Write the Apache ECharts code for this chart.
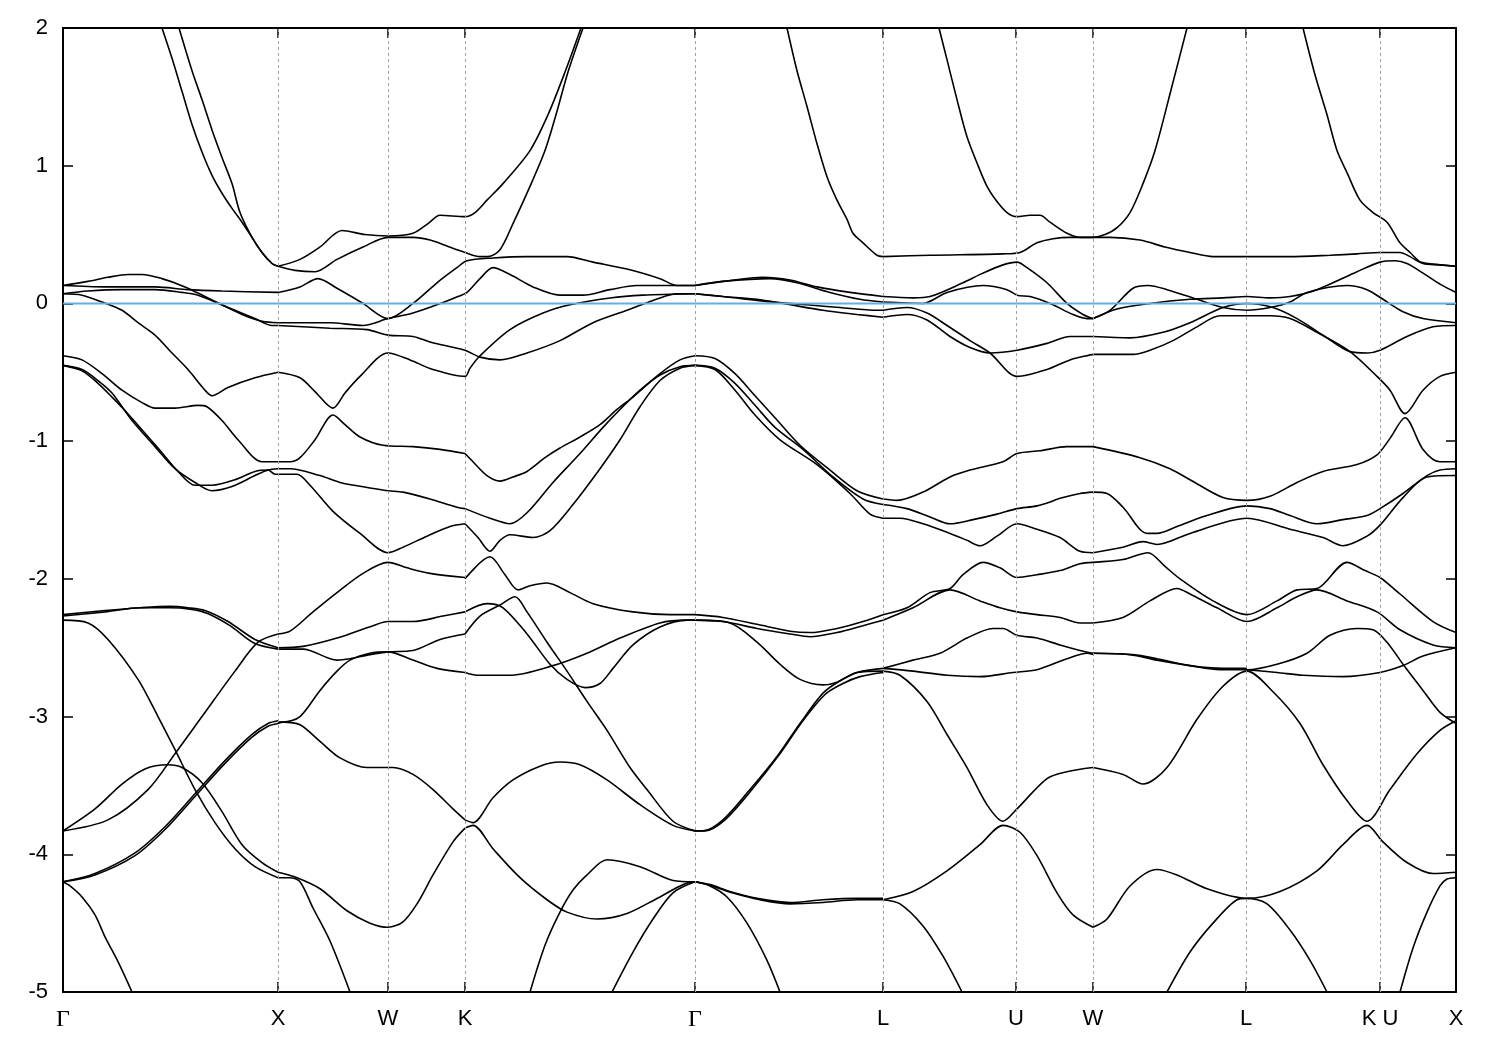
<!DOCTYPE html>
<html><head><meta charset="utf-8">
<script src="https://cdn.jsdelivr.net/npm/echarts@6/dist/echarts.min.js"></script>
<style>html,body{margin:0;padding:0;background:#fff}#c{width:1500px;height:1050px}</style>
</head><body><div id="c"></div>
<script>
// k-path tick positions (path length units) and labels
const kTickPos = [0,215,325,402,632,820,953,1030,1183,1317,1393];
const kTickLabels = ['Γ','X','W','K','Γ','L','U','W','L','K U','X'];
const energyMin = -5, energyMax = 2, energyStep = 1;
const fermiLevel = [[0,0],[1393,0]];

// ---- Γ–X ----
const P1 = [[99,2.00],[109,1.78],[119,1.54],[129,1.30],[139,1.10],[149,0.93],[159,0.80],[169,0.69],[179,0.59],[189,0.48],[199,0.37],[209,0.29],[215,0.27]];
const P2 = [[116,2.00],[129,1.69],[139,1.48],[149,1.26],[159,1.06],[169,0.87],[177,0.66],[189,0.48],[199,0.37],[209,0.29],[215,0.27]];
const GXa = [[0,0.13],[25,0.16],[45,0.19],[65,0.21],[79,0.21],[99,0.18],[122,0.12],[142,0.05],[159,-0.01],[179,-0.08],[199,-0.13],[215,-0.14]];
const GXb = [[0,0.13],[42,0.12],[92,0.12],[125,0.10],[159,0.09],[215,0.08]];
const GXc = [[0,0.07],[25,0.09],[59,0.10],[92,0.10],[119,0.08],[135,0.06],[152,0.01],[172,-0.05],[192,-0.11],[209,-0.16],[215,-0.16]];
const GXd = [[0,0.07],[19,0.06],[39,0.01],[59,-0.05],[75,-0.14],[92,-0.23],[109,-0.36],[125,-0.48],[142,-0.63],[149,-0.67],[165,-0.61],[192,-0.54],[215,-0.50]];
const GXe = [[0,-0.38],[19,-0.41],[39,-0.51],[59,-0.63],[79,-0.72],[92,-0.76],[112,-0.76],[135,-0.74],[144,-0.75],[159,-0.85],[175,-0.99],[199,-1.15],[215,-1.15]];
const GXf = [[0,-0.45],[19,-0.48],[35,-0.56],[49,-0.65],[59,-0.75],[69,-0.85],[92,-1.04],[112,-1.20],[132,-1.30],[149,-1.36],[169,-1.33],[192,-1.25],[205,-1.21],[215,-1.20]];
const GXg = [[0,-0.45],[19,-0.49],[35,-0.58],[49,-0.68],[61,-0.77],[72,-0.86],[95,-1.05],[115,-1.22],[132,-1.32],[149,-1.32],[172,-1.28],[192,-1.22],[205,-1.21],[212,-1.24],[215,-1.24]];
const GX1 = [[0,-2.26],[42,-2.23],[77,-2.21],[107,-2.20],[125,-2.21],[142,-2.23],[165,-2.31],[192,-2.44],[215,-2.50]];
const GX2 = [[0,-2.27],[42,-2.24],[77,-2.21],[107,-2.21],[127,-2.22],[144,-2.25],[167,-2.34],[192,-2.47],[215,-2.51]];
const GX3 = [[0,-2.30],[25,-2.32],[45,-2.44],[75,-2.73],[95,-3.00],[112,-3.24],[132,-3.53],[152,-3.77],[172,-3.96],[192,-4.09],[215,-4.17]];
const GX4 = [[0,-3.83],[45,-3.75],[85,-3.53],[112,-3.27],[139,-3.00],[172,-2.67],[195,-2.46],[215,-2.40]];
const GX5 = [[0,-3.83],[32,-3.67],[59,-3.49],[82,-3.38],[105,-3.35],[119,-3.37],[139,-3.48],[159,-3.69],[179,-3.93],[199,-4.06],[215,-4.13]];
const GX6 = [[0,-4.20],[32,-4.14],[72,-3.99],[102,-3.80],[132,-3.56],[162,-3.32],[189,-3.13],[205,-3.05],[215,-3.03]];
const GX7 = [[0,-4.20],[32,-4.15],[72,-4.01],[102,-3.82],[132,-3.58],[162,-3.34],[189,-3.15],[205,-3.07],[215,-3.05]];
const GX8 = [[0,-4.20],[7,-4.23],[19,-4.31],[32,-4.44],[42,-4.60],[55,-4.78],[69,-5.00]];

// ---- X–W–K–Γ ----
const U1 = [[215,0.27],[237,0.32],[257,0.41],[279,0.53],[302,0.50],[325,0.49],[350,0.51],[365,0.58],[377,0.64],[402,0.63],[412,0.66],[424,0.75],[440,0.87],[467,1.11],[485,1.37],[502,1.68],[518,2.00]];
const U2 = [[215,0.27],[232,0.24],[252,0.23],[274,0.32],[300,0.41],[325,0.48],[350,0.48],[367,0.46],[394,0.39],[402,0.37],[417,0.34],[425,0.34],[437,0.39],[450,0.58],[467,0.85],[482,1.11],[493,1.37],[505,1.68],[520,2.00]];
const lineA = [[215,0.08],[237,0.12],[255,0.18],[274,0.11],[300,0.00],[325,-0.11],[350,0.00],[374,0.15],[394,0.26],[404,0.31],[430,0.33],[464,0.34],[504,0.34],[530,0.30],[564,0.25],[597,0.18],[614,0.13],[632,0.13]];
const lineB = [[215,-0.14],[237,-0.14],[267,-0.14],[300,-0.16],[325,-0.11],[350,-0.07],[374,-0.01],[395,0.05],[404,0.08],[417,0.18],[430,0.26],[447,0.21],[470,0.12],[497,0.06],[520,0.06],[547,0.10],[574,0.13],[597,0.13],[632,0.13]];
const lineC = [[215,-0.16],[267,-0.18],[304,-0.19],[325,-0.23],[350,-0.24],[367,-0.28],[402,-0.34],[417,-0.39],[437,-0.41],[464,-0.36],[497,-0.27],[530,-0.14],[564,-0.05],[597,0.04],[614,0.07],[632,0.07]];
const lineD = [[215,-0.50],[237,-0.54],[252,-0.64],[270,-0.76],[282,-0.65],[297,-0.53],[325,-0.36],[347,-0.41],[370,-0.48],[402,-0.53],[407,-0.47],[417,-0.38],[447,-0.19],[480,-0.07],[507,-0.01],[547,0.04],[580,0.06],[632,0.07]];
const XW1 = [[215,-1.15],[227,-1.15],[237,-1.12],[252,-0.99],[270,-0.81],[282,-0.88],[297,-0.97],[320,-1.03],[350,-1.04],[377,-1.06],[402,-1.09]];
const XW2 = [[215,-1.20],[227,-1.20],[257,-1.25],[277,-1.30],[307,-1.34],[325,-1.36],[340,-1.37],[367,-1.42],[394,-1.48],[402,-1.49]];
const XW3 = [[215,-1.24],[234,-1.24],[247,-1.32],[270,-1.51],[297,-1.67],[325,-1.81],[340,-1.77],[364,-1.69],[387,-1.62],[402,-1.60]];
const XW4 = [[215,-2.40],[227,-2.38],[250,-2.24],[274,-2.10],[300,-1.96],[325,-1.88],[344,-1.92],[367,-1.96],[402,-1.99]];
const XW5 = [[215,-2.50],[240,-2.49],[274,-2.43],[310,-2.34],[325,-2.31],[350,-2.31],[380,-2.27],[402,-2.24]];
const XW6 = [[215,-2.51],[240,-2.51],[274,-2.59],[287,-2.58],[307,-2.55],[325,-2.53],[350,-2.52],[377,-2.44],[402,-2.40]];
const XW7 = [[215,-3.04],[220,-3.04],[237,-3.00],[257,-2.81],[274,-2.67],[287,-2.59],[307,-2.54],[325,-2.53],[350,-2.59],[374,-2.65],[402,-2.68]];
const XW8 = [[215,-3.05],[220,-3.04],[237,-3.06],[257,-3.18],[277,-3.30],[304,-3.37],[330,-3.37],[350,-3.42],[370,-3.53],[390,-3.67],[402,-3.75]];
const XW9 = [[215,-4.13],[234,-4.17],[257,-4.25],[284,-4.41],[307,-4.50],[325,-4.53],[340,-4.49],[354,-4.36],[370,-4.15],[390,-3.91],[402,-3.81]];
const XW10 = [[215,-4.17],[227,-4.17],[237,-4.20],[250,-4.39],[267,-4.63],[287,-5.00]];
const KG1 = [[402,-1.09],[410,-1.15],[424,-1.25],[437,-1.29],[450,-1.26],[464,-1.22],[482,-1.12],[497,-1.05],[517,-0.97],[537,-0.88],[554,-0.77],[570,-0.68],[597,-0.51],[617,-0.41],[632,-0.38]];
const KG2 = [[402,-1.49],[427,-1.56],[447,-1.60],[464,-1.52],[490,-1.30],[517,-1.09],[540,-0.90],[557,-0.77],[577,-0.63],[597,-0.52],[617,-0.46],[632,-0.45]];
const KG3 = [[402,-1.60],[415,-1.70],[427,-1.80],[437,-1.72],[447,-1.68],[470,-1.70],[487,-1.65],[510,-1.46],[537,-1.20],[557,-0.99],[577,-0.75],[597,-0.56],[617,-0.47],[632,-0.45]];
const KG4 = [[402,-2.00],[427,-1.84],[442,-1.97],[455,-2.08],[467,-2.05],[484,-2.03],[507,-2.10],[530,-2.18],[570,-2.24],[607,-2.26],[632,-2.26]];
const KG5 = [[402,-2.24],[424,-2.18],[440,-2.21],[464,-2.40],[487,-2.62],[504,-2.73],[522,-2.79],[537,-2.76],[550,-2.65],[570,-2.48],[597,-2.35],[624,-2.30],[632,-2.30]];
const KG6 = [[402,-2.40],[417,-2.27],[437,-2.19],[452,-2.13],[464,-2.24],[484,-2.46],[504,-2.67],[524,-2.89],[544,-3.10],[567,-3.37],[584,-3.53],[610,-3.76],[632,-3.83]];
const KG7 = [[402,-2.68],[414,-2.70],[447,-2.70],[490,-2.63],[524,-2.54],[557,-2.43],[597,-2.32],[624,-2.30],[632,-2.30]];
const KG8 = [[402,-3.75],[410,-3.77],[430,-3.59],[450,-3.46],[477,-3.36],[497,-3.33],[517,-3.35],[544,-3.46],[577,-3.64],[610,-3.79],[632,-3.83]];
const KG9 = [[402,-3.81],[410,-3.79],[430,-3.96],[457,-4.17],[484,-4.33],[504,-4.42],[534,-4.47],[564,-4.43],[597,-4.31],[630,-4.20],[632,-4.20]];
const KG10 = [[467,-5.00],[482,-4.66],[497,-4.42],[510,-4.26],[524,-4.15],[544,-4.04],[577,-4.09],[610,-4.19],[632,-4.20]];
const KG11 = [[549,-5.00],[570,-4.71],[590,-4.47],[610,-4.28],[632,-4.20]];

// ---- Γ–L ----
const GL1 = [[724,2.00],[734,1.69],[744,1.43],[754,1.16],[764,0.92],[774,0.75],[784,0.61],[790,0.51],[800,0.44],[814,0.35],[820,0.34]];
const GLb1 = [[632,0.13],[660,0.16],[700,0.19],[727,0.17],[754,0.12],[787,0.08],[820,0.05]];
const GLb2 = [[632,0.13],[660,0.16],[707,0.18],[734,0.15],[767,0.08],[797,0.03],[820,0.01]];
const GLb3 = [[632,0.07],[660,0.05],[694,0.03],[720,0.00],[760,-0.05],[794,-0.08],[820,-0.10]];
const GLb4 = [[632,0.07],[660,0.05],[710,0.01],[744,-0.01],[777,-0.03],[814,-0.05],[820,-0.05]];
const GLm1 = [[632,-0.38],[652,-0.40],[672,-0.51],[692,-0.67],[712,-0.83],[737,-1.03],[767,-1.21],[794,-1.36],[820,-1.42]];
const GLm2 = [[632,-0.45],[652,-0.47],[672,-0.58],[692,-0.74],[712,-0.90],[740,-1.06],[770,-1.26],[800,-1.42],[820,-1.46]];
const GLm3 = [[632,-0.45],[652,-0.48],[672,-0.63],[692,-0.81],[717,-0.99],[754,-1.17],[787,-1.38],[807,-1.53],[820,-1.56]];
const GL2 = [[632,-2.26],[660,-2.28],[694,-2.33],[727,-2.38],[747,-2.39],[774,-2.36],[800,-2.31],[820,-2.26]];
const GL3 = [[632,-2.30],[660,-2.31],[694,-2.36],[727,-2.40],[747,-2.42],[774,-2.39],[800,-2.34],[820,-2.30]];
const GL4 = [[632,-2.30],[667,-2.32],[694,-2.46],[717,-2.62],[737,-2.73],[760,-2.77],[774,-2.75],[794,-2.68],[820,-2.65]];
const GL5 = [[632,-3.83],[640,-3.83],[660,-3.75],[687,-3.53],[714,-3.29],[737,-3.05],[760,-2.83],[777,-2.74],[794,-2.68],[820,-2.67]];
const GL6 = [[632,-3.83],[642,-3.83],[662,-3.75],[689,-3.53],[716,-3.28],[739,-3.04],[762,-2.84],[780,-2.76],[797,-2.71],[820,-2.68]];
const GL7 = [[632,-4.20],[647,-4.22],[667,-4.27],[694,-4.32],[727,-4.35],[760,-4.33],[794,-4.32],[820,-4.32]];
const GL8 = [[632,-4.20],[649,-4.23],[669,-4.28],[697,-4.33],[727,-4.36],[760,-4.35],[794,-4.33],[820,-4.33]];
const GL9 = [[632,-4.20],[647,-4.23],[664,-4.31],[684,-4.50],[704,-4.77],[717,-5.00]];

// ---- L–U–W ----
const LUc = [[876,2.00],[884,1.77],[894,1.48],[904,1.21],[914,1.02],[924,0.85],[934,0.74],[944,0.66],[954,0.63],[967,0.64],[977,0.64],[987,0.59],[1004,0.51],[1017,0.48],[1030,0.48],[1042,0.50],[1054,0.55],[1067,0.66],[1080,0.87],[1092,1.11],[1108,1.55],[1124,2.00]];
const FLAT = [[820,0.34],[867,0.35],[940,0.36],[957,0.37],[974,0.44],[990,0.47],[1007,0.48],[1030,0.48],[1047,0.48],[1077,0.46],[1102,0.41],[1127,0.37],[1150,0.34],[1187,0.34],[1227,0.34],[1267,0.35],[1294,0.36],[1317,0.37],[1337,0.37],[1347,0.34],[1357,0.30],[1377,0.28],[1393,0.27]];
const LU1 = [[820,0.05],[850,0.04],[867,0.05],[900,0.15],[920,0.22],[940,0.28],[954,0.30],[964,0.26],[984,0.15],[1004,0.00],[1020,-0.08],[1030,-0.11]];
const LU2 = [[820,0.01],[860,0.00],[884,0.08],[920,0.13],[944,0.10],[954,0.06],[967,0.05],[987,0.00],[1010,-0.08],[1024,-0.11],[1030,-0.11]];
const LU3 = [[820,-0.05],[844,-0.03],[864,-0.07],[884,-0.16],[907,-0.27],[927,-0.36],[954,-0.53],[984,-0.48],[1007,-0.41],[1030,-0.37]];
const LU4 = [[820,-0.10],[844,-0.08],[864,-0.12],[887,-0.24],[907,-0.32],[927,-0.36],[954,-0.34],[984,-0.29],[1007,-0.24],[1030,-0.24]];
const LW1 = [[820,-1.42],[834,-1.43],[860,-1.37],[887,-1.26],[907,-1.21],[940,-1.15],[954,-1.09],[977,-1.07],[1004,-1.04],[1030,-1.04]];
const LW2 = [[820,-1.46],[844,-1.49],[867,-1.55],[887,-1.60],[910,-1.57],[934,-1.53],[954,-1.49],[974,-1.47],[1000,-1.41],[1017,-1.38],[1030,-1.37]];
const LW3 = [[820,-1.56],[837,-1.56],[860,-1.60],[887,-1.67],[904,-1.72],[917,-1.76],[934,-1.69],[954,-1.60],[974,-1.64],[997,-1.70],[1017,-1.80],[1030,-1.81]];
const LW4 = [[820,-2.26],[844,-2.21],[867,-2.10],[887,-2.07],[900,-1.97],[920,-1.88],[937,-1.92],[954,-1.99],[974,-1.97],[997,-1.94],[1017,-1.89],[1030,-1.88]];
const LW5 = [[820,-2.30],[850,-2.21],[887,-2.08],[917,-2.16],[937,-2.21],[954,-2.24],[974,-2.26],[997,-2.28],[1017,-2.32],[1030,-2.32]];
const LW6 = [[820,-2.65],[850,-2.59],[877,-2.54],[904,-2.43],[930,-2.36],[940,-2.36],[954,-2.41],[974,-2.43],[997,-2.48],[1017,-2.52],[1030,-2.54]];
const LW7 = [[820,-2.65],[850,-2.67],[884,-2.70],[917,-2.71],[950,-2.68],[974,-2.66],[1004,-2.58],[1024,-2.54],[1030,-2.55]];
const LW8 = [[820,-2.67],[837,-2.70],[864,-2.89],[884,-3.13],[904,-3.37],[924,-3.64],[940,-3.76],[954,-3.67],[984,-3.45],[1004,-3.40],[1030,-3.37]];
const LW9 = [[820,-4.33],[850,-4.27],[884,-4.12],[917,-3.93],[940,-3.79],[957,-3.84],[974,-4.01],[994,-4.28],[1010,-4.44],[1030,-4.53]];
const LW10 = [[820,-4.33],[837,-4.36],[860,-4.52],[880,-4.74],[899,-5.00]];

// ---- W–L–K|U–X ----
const WL1 = [[1030,-0.11],[1047,-0.05],[1070,0.11],[1085,0.13],[1104,0.10],[1134,0.03],[1160,-0.03],[1184,-0.05],[1207,-0.03],[1227,0.01],[1244,0.08],[1284,0.13],[1304,0.10],[1320,0.03],[1340,-0.06],[1360,-0.11],[1393,-0.14]];
const WL2 = [[1030,-0.11],[1054,-0.04],[1087,0.00],[1127,0.03],[1160,0.04],[1184,0.05],[1207,0.04],[1227,0.05],[1254,0.10],[1294,0.23],[1317,0.30],[1332,0.31],[1344,0.29],[1360,0.22],[1377,0.14],[1393,0.08]];
const WL3 = [[1030,-0.24],[1067,-0.25],[1100,-0.21],[1127,-0.14],[1160,-0.03],[1184,0.00],[1210,-0.03],[1234,-0.11],[1260,-0.23],[1287,-0.35],[1304,-0.36],[1317,-0.34],[1344,-0.24],[1370,-0.17],[1393,-0.16]];
const WL4 = [[1030,-0.37],[1070,-0.37],[1087,-0.34],[1110,-0.27],[1134,-0.17],[1157,-0.09],[1184,-0.09],[1207,-0.09],[1227,-0.11],[1254,-0.21],[1287,-0.35],[1314,-0.53],[1327,-0.63],[1342,-0.80],[1360,-0.63],[1377,-0.53],[1393,-0.50]];
const RSTEEP = [[1240,2.00],[1252,1.66],[1264,1.37],[1274,1.11],[1284,0.95],[1297,0.75],[1310,0.66],[1324,0.59],[1337,0.44],[1347,0.37],[1360,0.29],[1377,0.28],[1393,0.27]];
const WX1 = [[1030,-1.04],[1077,-1.12],[1107,-1.20],[1127,-1.28],[1160,-1.41],[1184,-1.43],[1207,-1.40],[1234,-1.30],[1260,-1.22],[1294,-1.17],[1314,-1.10],[1327,-0.98],[1342,-0.83],[1360,-1.06],[1377,-1.15],[1393,-1.15]];
const WX2 = [[1030,-1.37],[1044,-1.38],[1060,-1.48],[1084,-1.67],[1094,-1.67],[1114,-1.62],[1144,-1.54],[1184,-1.47],[1207,-1.49],[1227,-1.54],[1254,-1.60],[1280,-1.57],[1304,-1.54],[1317,-1.49],[1340,-1.38],[1364,-1.25],[1377,-1.21],[1393,-1.20]];
const WX3 = [[1030,-1.81],[1060,-1.77],[1080,-1.73],[1094,-1.75],[1127,-1.67],[1184,-1.56],[1227,-1.64],[1260,-1.70],[1280,-1.76],[1304,-1.69],[1317,-1.61],[1340,-1.41],[1364,-1.26],[1393,-1.25]];
const WX4 = [[1030,-1.88],[1060,-1.86],[1085,-1.81],[1102,-1.91],[1117,-2.00],[1150,-2.16],[1184,-2.26],[1214,-2.16],[1234,-2.08],[1254,-2.07],[1284,-1.88],[1302,-1.94],[1317,-1.99],[1337,-2.11],[1370,-2.31],[1393,-2.39]];
const WX5 = [[1030,-2.32],[1060,-2.28],[1087,-2.16],[1114,-2.07],[1127,-2.11],[1154,-2.21],[1184,-2.31],[1214,-2.21],[1234,-2.13],[1254,-2.08],[1284,-2.16],[1314,-2.24],[1337,-2.37],[1370,-2.48],[1393,-2.50]];
const WX6 = [[1030,-2.54],[1070,-2.55],[1094,-2.58],[1127,-2.63],[1160,-2.65],[1184,-2.65]];
const WX6b = [[1030,-2.54],[1067,-2.55],[1094,-2.59],[1127,-2.63],[1157,-2.66],[1184,-2.66],[1214,-2.62],[1244,-2.54],[1267,-2.41],[1294,-2.36],[1310,-2.37],[1324,-2.46],[1340,-2.62],[1360,-2.81],[1377,-2.97],[1393,-3.05]];
const WX7 = [[1184,-2.66],[1214,-2.68],[1240,-2.70],[1280,-2.71],[1317,-2.68],[1340,-2.63],[1360,-2.56],[1393,-2.50]];
const WX8 = [[1030,-3.37],[1060,-3.42],[1080,-3.49],[1104,-3.37],[1134,-3.02],[1160,-2.78],[1184,-2.67],[1210,-2.82],[1237,-3.05],[1260,-3.35],[1284,-3.61],[1304,-3.76],[1327,-3.53],[1354,-3.27],[1377,-3.10],[1393,-3.03]];
const WX9 = [[1030,-4.53],[1044,-4.47],[1067,-4.23],[1094,-4.11],[1114,-4.15],[1144,-4.25],[1184,-4.32],[1217,-4.27],[1254,-4.12],[1280,-3.93],[1304,-3.79],[1320,-3.91],[1344,-4.06],[1370,-4.14],[1393,-4.13]];
const WX10 = [[1104,-5.00],[1127,-4.71],[1150,-4.50],[1174,-4.33],[1184,-4.32],[1204,-4.36],[1227,-4.55],[1247,-4.77],[1264,-5.00]];
const WX11 = [[1337,-5.00],[1350,-4.68],[1364,-4.42],[1377,-4.23],[1384,-4.18],[1393,-4.17]];

const bands = [P1,P2,GXa,GXb,GXc,GXd,GXe,GXf,GXg,GX1,GX2,GX3,GX4,GX5,GX6,GX7,GX8,
  U1,U2,lineA,lineB,lineC,lineD,XW1,XW2,XW3,XW4,XW5,XW6,XW7,XW8,XW9,XW10,
  KG1,KG2,KG3,KG4,KG5,KG6,KG7,KG8,KG9,KG10,KG11,
  GL1,GLb1,GLb2,GLb3,GLb4,GLm1,GLm2,GLm3,GL2,GL3,GL4,GL5,GL6,GL7,GL8,GL9,
  LUc,FLAT,LU1,LU2,LU3,LU4,LW1,LW2,LW3,LW4,LW5,LW6,LW7,LW8,LW9,LW10,
  WL1,WL2,WL3,WL4,RSTEEP,WX1,WX2,WX3,WX4,WX5,WX6,WX6b,WX7,WX8,WX9,WX10,WX11];

const chart = echarts.init(document.getElementById('c'));
const kMax = kTickPos[kTickPos.length-1];
function kLabel(v){
  const i = kTickPos.findIndex(p => Math.abs(p - v) < 0.5);
  const s = i >= 0 ? kTickLabels[i] : '';
  return s === 'Γ' ? '{g|Γ}' : s;
}
const axisLineStyle = {color:'#000', width:2};
const tickStyle = {color:'#000', width:1.5};
const series = bands.map(b => ({
  type:'line', data:b, showSymbol:false, symbol:'none', smooth:0.3,
  lineStyle:{color:'#000', width:1.6}, silent:true, animation:false, z:3, clip:true
}));
series.unshift({
  type:'line', data:[], silent:true, animation:false, z:1,
  markLine:{symbol:'none', silent:true, animation:false, label:{show:false},
    lineStyle:{color:'#a0a0a0', type:[3,3], width:1},
    data: kTickPos.slice(1,-1).map(v => ({xAxis:v}))}
});
series.push({type:'line', data:fermiLevel, showSymbol:false, symbol:'none',
  lineStyle:{color:'#56b4e9', width:2}, silent:true, animation:false, z:4});

chart.setOption({
  animation:false,
  backgroundColor:'#fff',
  grid:{left:63, right:44, top:28, bottom:58, containLabel:false},
  xAxis:[
    {type:'value', min:0, max:kMax, position:'bottom',
     axisLine:{show:true, onZero:false, lineStyle:axisLineStyle},
     axisTick:{show:true, inside:true, length:10, customValues:kTickPos, lineStyle:tickStyle},
     axisLabel:{show:true, customValues:kTickPos, formatter:kLabel, margin:16, fontSize:22,
       color:'#000', fontFamily:'Liberation Sans, Arial, sans-serif',
       rich:{g:{fontFamily:'Liberation Serif, Times New Roman, serif', fontSize:24, color:'#000'}}},
     splitLine:{show:false}},
    {type:'value', min:0, max:kMax, position:'top',
     axisLine:{show:true, onZero:false, lineStyle:axisLineStyle},
     axisTick:{show:true, inside:true, length:10, customValues:kTickPos, lineStyle:tickStyle},
     axisLabel:{show:false}, splitLine:{show:false}}
  ],
  yAxis:[
    {type:'value', min:energyMin, max:energyMax, interval:energyStep, position:'left',
     axisLine:{show:true, onZero:false, lineStyle:axisLineStyle},
     axisTick:{show:true, inside:true, length:10, lineStyle:tickStyle},
     axisLabel:{show:true, margin:15, fontSize:22, color:'#000', fontFamily:'Liberation Sans, Arial, sans-serif'},
     splitLine:{show:false}},
    {type:'value', min:energyMin, max:energyMax, interval:energyStep, position:'right',
     axisLine:{show:true, onZero:false, lineStyle:axisLineStyle},
     axisTick:{show:true, inside:true, length:10, lineStyle:tickStyle},
     axisLabel:{show:false}, splitLine:{show:false}}
  ],
  series: series
});
</script></body></html>
